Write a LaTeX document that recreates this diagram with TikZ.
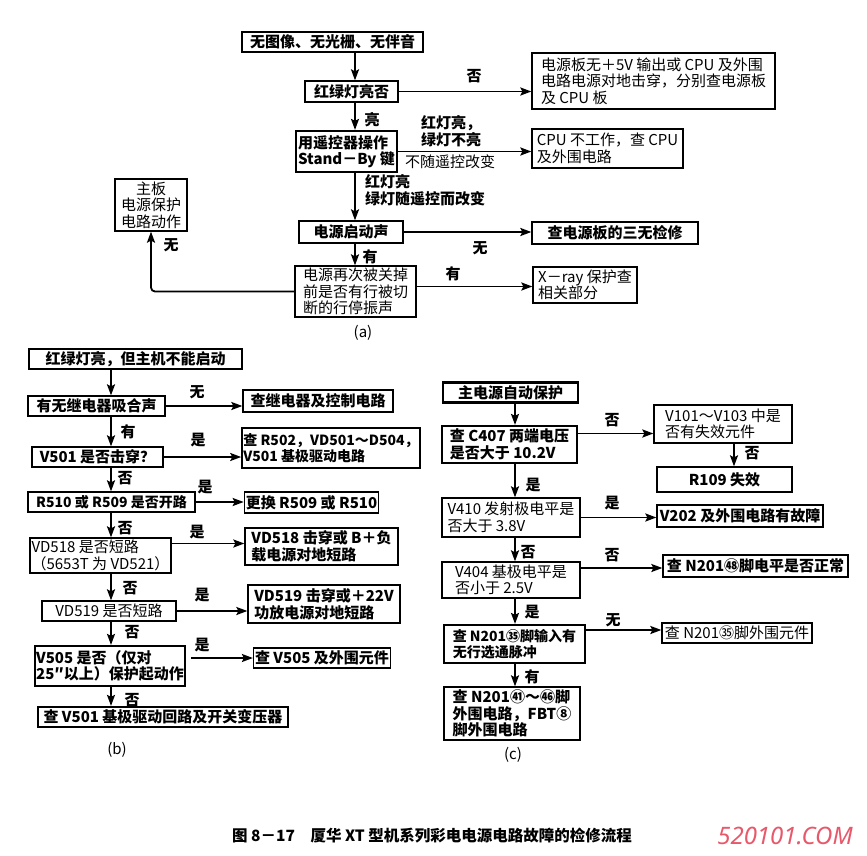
\documentclass[tikz,border=0pt]{standalone}
\usepackage{fontspec}
\setmainfont{Noto Sans CJK SC}
\newfontfamily\wmfont{Noto Sans}
\usetikzlibrary{arrows.meta}

\begin{document}
\begin{tikzpicture}[x=1pt, y=-1pt,
    box/.style={draw, line width=1.3pt, inner sep=1.5pt, align=left, font=\fontsize{15}{16.5}\selectfont\bfseries},
    thickbox/.style={box, line width=2.2pt},
    plain/.style={font=\fontsize{15}{16.5}\selectfont\mdseries},
    tight/.style={font=\fontsize{14}{16.5}\selectfont\bfseries},
    lbl/.style={inner sep=0pt, align=left, font=\fontsize{15}{16.5}\selectfont\bfseries},
    arr/.style={-{Stealth[length=11pt, width=8pt, inset=2pt]}, line width=1.8pt},
  ]
  \useasboundingbox (0,0) rectangle (867,856);
  \fill[white] (0,0) rectangle (867,856);

  % spines of the three charts
  \coordinate (sa) at (355,0);
  \coordinate (sb) at (111,0);
  \coordinate (sc) at (515,0);

  % (a)
  \node[box, minimum width=181, minimum height=20] (a1) at (332.5,42) {无图像、无光栅、无伴音};
  \node[box, minimum width=93, minimum height=21] (a2) at (351.5,91.5) {红绿灯亮否};
  \node[thickbox, minimum width=101, minimum height=41] (a3) at (346.5,151.5) {用遥控器操作\\Stand－By 键};
  \node[box, minimum width=104, minimum height=22] (a4) at (351,232) {电源启动声};
  \node[box, plain, minimum width=121, minimum height=51] (a5) at (355.5,291.5) {电源再次被关掉\\前是否有行被切\\断的行停振声};
  \node[box, plain, align=center, minimum width=72, minimum height=52] (a6) at (151,205) {主板\\电源保护\\电路动作};
  \node[box, plain, minimum width=243, minimum height=56] (r1) at (653.5,81) {电源板无＋5V 输出或 CPU 及外围\\电路电源对地击穿，分别查电源板\\及 CPU 板};
  \node[box, plain, minimum width=151, minimum height=39] (r2) at (607.5,148.5) {CPU 不工作，查 CPU\\及外围电路};
  \node[box, minimum width=166, minimum height=22] (r3) at (615,233) {查电源板的三无检修};
  \node[box, plain, minimum width=104, minimum height=36] (r4) at (585,285) {X－ray 保护查\\相关部分};

  \draw[arr] (a1.south -| sa) -- (a2.north -| sa);
  \draw[arr] (a2.east) -- (a2.east -| r1.west);
  \draw[arr] (a2.south -| sa) -- (a3.north -| sa);
  \draw[arr] (a3.east) -- (a3.east -| r2.west);
  \draw[arr] (a3.south -| sa) -- (a4.north -| sa);
  \draw[arr] (a4.east) -- (a4.east -| r3.west);
  \draw[arr] (a4.south -| sa) -- (a5.north -| sa);
  \draw[arr] ([yshift=5pt]a5.east) coordinate (a5o) -- (a5o -| r4.west);
  \draw[arr, rounded corners=4pt] (a5.west) -| (a6.south);

  \node[lbl] (la1) at (474,76) {否};
  \node[lbl] (la2) at (372,120) {亮};
  \node[lbl] (la3) at (451,131) {红灯亮，\\绿灯不亮};
  \node[lbl, plain] (la4) at (450,162) {不随遥控改变};
  \node[lbl, anchor=west] (la5) at (365,190) {红灯亮\\绿灯随遥控而改变};
  \node[lbl] (la6) at (480,248) {无};
  \node[lbl] (la7) at (370,257) {有};
  \node[lbl] (la8) at (453,274) {有};
  \node[lbl] (la9) at (171,245) {无};
  \node[lbl, plain] (capa) at (363,333) {(a)};

  % (b)
  \node[box, minimum width=213, minimum height=20] (b1) at (135.5,359) {红绿灯亮，但主机不能启动};
  \node[box, minimum width=137, minimum height=20] (b2) at (96.5,406) {有无继电器吸合声};
  \node[box, minimum width=150, minimum height=22] (br1) at (318,401) {查继电器及控制电路};
  \node[box, minimum width=131, minimum height=20] (b3) at (97.5,457) {V501 是否击穿？};
  \node[box, tight, minimum width=172, minimum height=40] (br2) at (331,448) {查 R502，VD501～D504，\\V501 基极驱动电路};
  \node[box, tight, minimum width=167, minimum height=20] (b4) at (111.5,502) {R510 或 R509 是否开路};
  \node[box, minimum width=133, minimum height=21] (br3) at (311.5,502.5) {更换 R509 或 R510};
  \node[box, plain, minimum width=135, minimum height=35] (b5) at (100.5,555.5) {VD518 是否短路\\（5653T 为 VD521）};
  \node[box, minimum width=153, minimum height=37] (br4) at (321.5,546.5) {VD518 击穿或 B＋负\\载电源对地短路};
  \node[box, plain, minimum width=134, minimum height=20] (b6) at (109,611) {VD519 是否短路};
  \node[box, minimum width=152, minimum height=38] (br5) at (324,604) {VD519 击穿或＋22V\\功放电源对地短路};
  \node[thickbox, minimum width=144, minimum height=40] (b7) at (110,666) {V505 是否（仅对\\25″以上）保护起动作};
  \node[box, minimum width=136, minimum height=20] (br6) at (322,658) {查 V505 及外围元件};
  \node[thickbox, minimum width=250, minimum height=20] (b8) at (163,717) {查 V501 基极驱动回路及开关变压器};

  \draw[arr] (b1.south -| sb) -- (b2.north -| sb);
  \draw[arr] (b2.east) -- (b2.east -| br1.west);
  \draw[arr] (b2.south -| sb) -- (b3.north -| sb);
  \draw[arr] (b3.east) -- (b3.east -| br2.west);
  \draw[arr] (b3.south -| sb) -- (b4.north -| sb);
  \draw[arr] (b4.east) -- (b4.east -| br3.west);
  \draw[arr] (b4.south -| sb) -- (b5.north -| sb);
  \draw[arr] ([yshift=12pt]b5.east) coordinate (b5o) -- (b5o -| br4.west);
  \draw[arr] (b5.south -| sb) -- (b6.north -| sb);
  \draw[arr] (b6.east) -- (b6.east -| br5.west);
  \draw[arr] (b6.south -| sb) -- (b7.north -| sb);
  \draw[arr] ([shift={(5pt,8pt)}]b7.east) coordinate (b7o) -- (b7o -| br6.west);
  \draw[arr] (b7.south -| sb) -- (b8.north -| sb);

  \node[lbl] (lb1) at (197,392) {无};
  \node[lbl] (lb2) at (128,432) {有};
  \node[lbl] (lb3) at (198,440) {是};
  \node[lbl] (lb4) at (125,478) {否};
  \node[lbl] (lb5) at (205,487) {是};
  \node[lbl] (lb6) at (125,528) {否};
  \node[lbl] (lb7) at (197,532) {是};
  \node[lbl] (lb8) at (130,588) {否};
  \node[lbl] (lb9) at (202,595) {是};
  \node[lbl] (lb10) at (132,632) {否};
  \node[lbl] (lb11) at (202,645) {是};
  \node[lbl] (lb12) at (132,700) {否};
  \node[lbl, plain] (capb) at (117,750) {(b)};

  % (c)
  \node[thickbox, minimum width=135, minimum height=20] (c1) at (510.5,392.5) {主电源自动保护};
  \node[thickbox, minimum width=135, minimum height=37] (c2) at (509.5,444.5) {查 C407 两端电压\\是否大于 10.2V};
  \node[box, plain, minimum width=138, minimum height=38] (cr1) at (723,424) {V101～V103 中是\\否有失效元件};
  \node[box, minimum width=135, minimum height=25] (cr2) at (724.5,479.5) {R109 失效};
  \node[box, plain, minimum width=138, minimum height=39] (c3) at (511,517.5) {V410 发射极电平是\\否大于 3.8V};
  \node[box, minimum width=166, minimum height=22] (cr3) at (740,516) {V202 及外围电路有故障};
  \node[box, plain, minimum width=138, minimum height=36] (c4) at (511,580) {V404 基极电平是\\否小于 2.5V};
  \node[box, minimum width=185, minimum height=22] (cr4) at (755.5,566) {查 N201㊽脚电平是否正常};
  \node[thickbox, tight, minimum width=141, minimum height=38] (c5) at (514.5,644) {查 N201㉟脚输入有\\无行选通脉冲};
  \node[box, plain, minimum width=150, minimum height=20] (cr5) at (737,633) {查 N201㉟脚外围元件};
  \node[box, minimum width=136, minimum height=53] (c6) at (512,713.5) {查 N201㊶～㊻脚\\外围电路，FBT⑧\\脚外围电路};

  \draw[arr] (c1.south -| sc) -- (c2.north -| sc);
  \draw[arr] ([yshift=11pt]c2.east) coordinate (c2o) -- (c2o -| cr1.west);
  \draw[arr] ([xshift=11pt]cr1.south) coordinate (cr1o) -- (cr1o |- cr2.north);
  \draw[arr] (c2.south -| sc) -- (c3.north -| sc);
  \draw[arr] (c3.east) -- (c3.east -| cr3.west);
  \draw[arr] (c3.south -| sc) -- (c4.north -| sc);
  \draw[arr] ([yshift=12pt]c4.east) coordinate (c4o) -- (c4o -| cr4.west);
  \draw[arr] (c4.south -| sc) -- (c5.north -| sc);
  \draw[arr] ([yshift=14pt]c5.east) coordinate (c5o) -- (c5o -| cr5.west);
  \draw[arr] (c5.south -| sc) -- (c6.north -| sc);

  \node[lbl] (lc1) at (612,420) {否};
  \node[lbl] (lc2) at (752,453) {否};
  \node[lbl] (lc3) at (533,485) {是};
  \node[lbl] (lc4) at (612,503) {是};
  \node[lbl] (lc5) at (528,552) {否};
  \node[lbl] (lc6) at (612,555) {否};
  \node[lbl] (lc7) at (532,612) {是};
  \node[lbl] (lc8) at (613,620) {无};
  \node[lbl] (lc9) at (532,677) {有};
  \node[lbl, plain] (capc) at (513,755) {(c)};

  % caption
  \node[lbl, font=\fontsize{15.5}{18}\selectfont\bfseries] (title) at (432,836) {图 8－17　厦华 XT 型机系列彩电电源电路故障的检修流程};
  \node[inner sep=0pt, text={rgb,255:red,232;green,88;blue,106}, font=\wmfont\fontsize{24}{26}\selectfont\bfseries\itshape] (mark) at (785,836) {520101.COM};
\end{tikzpicture}
\end{document}
